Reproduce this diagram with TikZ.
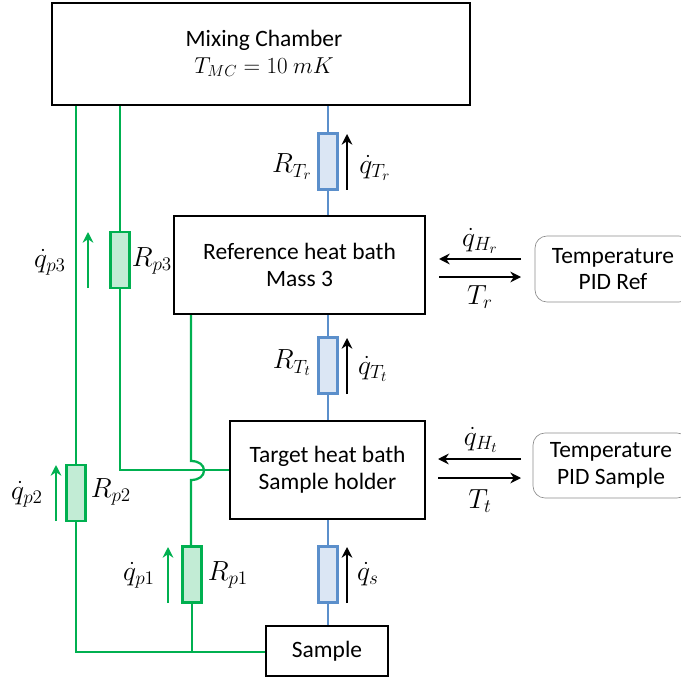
\documentclass[tikz,border=0pt]{standalone}
\usepackage{fontspec}
\setmainfont{Carlito}
\usetikzlibrary{arrows.meta,calc}
\definecolor{gline}{HTML}{00B050}
\definecolor{bline}{HTML}{5B8FCB}
\tikzset{
 x=0.75pt,y=-0.75pt,
 boxn/.style={draw=black,line width=1.5pt,inner sep=0pt,align=center,font=\fontsize{17.6}{20}\selectfont},
 pid/.style={draw=black!45,line width=0.5pt,rounded corners=9pt,inner sep=0pt,align=center,font=\fontsize{17.6}{20}\selectfont},
 rblue/.style={draw=bline,line width=1.8pt,fill=bline!22,minimum width=14.5pt,minimum height=42pt,inner sep=0pt},
 rgreen/.style={draw=gline,line width=1.8pt,fill=gline!24,minimum width=14.5pt,minimum height=42pt,inner sep=0pt},
 wg/.style={draw=gline,line width=1.7pt},
 wb/.style={draw=bline,line width=1.8pt},
 arr/.style={draw=black,line width=1.2pt,-{Stealth[length=8pt,width=8pt]}},
 arrg/.style={draw=gline,line width=1.2pt,-{Stealth[length=8pt,width=8pt]}},
 lab/.style={inner sep=0pt,font=\fontsize{21}{24}\selectfont},
}
\begin{document}
\begin{tikzpicture}
\useasboundingbox (0,0) rectangle (681,677);
\node[boxn,minimum width=313.5pt,minimum height=76.5pt] (mc) at (261,54) {};
\node[inner sep=0pt,align=center,font=\fontsize{17.6}{20.3}\selectfont] (mct) at (264,53.5) {Mixing Chamber\\$T_{MC}=10\ mK$};
\node[boxn,minimum width=188.5pt,minimum height=73.5pt] (ref) at (299.5,265) {Reference heat bath\\Mass 3};
\node[boxn,minimum width=146.5pt,minimum height=73.5pt] (tgt) at (327.5,470) {Target heat bath\\Sample holder};
\node[boxn,minimum width=91.5pt,minimum height=37.5pt] (smp) at (327,651) {Sample};
\node[pid,minimum width=117pt,minimum height=49.5pt] (pr) at (613,269) {Temperature\\PID Ref};
\node[pid,minimum width=117pt,minimum height=48.75pt] (ps) at (611,465.5) {Temperature\\PID Sample};
\node[rblue] (r1) at (328,161.5) {};
\node[rblue] (r2) at (328,365.5) {};
\node[rblue] (r3) at (328,574.5) {};
\node[rgreen] (g3) at (120,260) {};
\node[rgreen] (g2) at (76,493) {};
\node[rgreen] (g1) at (192,574.5) {};
% blue connectors
\draw[wb] (r1.north) -- (r1.north |- mc.south);
\draw[wb] (r1.south) -- (r1.south |- ref.north);
\draw[wb] (r2.north) -- (r2.north |- ref.south);
\draw[wb] (r2.south) -- (r2.south |- tgt.north);
\draw[wb] (r3.north) -- (r3.north |- tgt.south);
\draw[wb] (r3.south) -- (r3.south |- smp.north);
% green connectors
\coordinate (j3) at (120,470);
\coordinate (bu) at (191,461);
\coordinate (bd) at (191,480);
\coordinate (sj) at (76,652);
\coordinate (sk) at (192,652);
\draw[wg] (g3.north) -- (g3.north |- mc.south);
\draw[wg] (g3.south) -- (j3) -- (j3 -| tgt.west);
\draw[wg] (g2.north) -- (g2.north |- mc.south);
\draw[wg] (g2.south) -- (sj) -- (sj -| smp.west);
\draw[wg] (g1.south) -- (sk);
\draw[wg] (bu |- ref.south) -- (bu) .. controls (199,461) and (204,465) .. (204,470.5) .. controls (204,476) and (199,480) .. (bd) -- (g1.north -| bd);
% flow arrows
\coordinate (a1s) at (347,190); \coordinate (a1e) at (347,134);
\coordinate (a2s) at (347,394); \coordinate (a2e) at (347,338);
\coordinate (a3s) at (347,603); \coordinate (a3e) at (347,547);
\draw[arr] (a1s) -- (a1e);
\draw[arr] (a2s) -- (a2e);
\draw[arr] (a3s) -- (a3e);
\coordinate (b1s) at (88,288); \coordinate (b1e) at (88,232);
\coordinate (b2s) at (56,521); \coordinate (b2e) at (56,465);
\coordinate (b3s) at (168,603); \coordinate (b3e) at (168,547);
\draw[arrg] (b1s) -- (b1e);
\draw[arrg] (b2s) -- (b2e);
\draw[arrg] (b3s) -- (b3e);
\coordinate (h1s) at (521,259); \coordinate (h1e) at (439,259);
\coordinate (h2s) at (439,277); \coordinate (h2e) at (521,277);
\coordinate (h3s) at (521,459); \coordinate (h3e) at (438,459);
\coordinate (h4s) at (438,478); \coordinate (h4e) at (521,478);
\draw[arr] (h1s) -- (h1e);
\draw[arr] (h2s) -- (h2e);
\draw[arr] (h3s) -- (h3e);
\draw[arr] (h4s) -- (h4e);
% labels
\node[lab] (l1) at (292,167) {$R_{T_r}$};
\node[lab] (l2) at (375,168) {$\dot q_{T_r}$};
\node[lab] (l3) at (292,363) {$R_{T_t}$};
\node[lab] (l4) at (373,369) {$\dot q_{T_t}$};
\node[lab] (l5) at (368,574) {$\dot q_{s}$};
\node[lab] (l6) at (480,241) {$\dot q_{H_r}$};
\node[lab] (l7) at (480,297) {$T_r$};
\node[lab] (l8) at (481,440) {$\dot q_{H_t}$};
\node[lab] (l9) at (480,501) {$T_t$};
\node[lab] (l10) at (50,262) {$\dot q_{p3}$};
\node[lab] (l11) at (152,261) {$R_{p3}$};
\node[lab] (l12) at (27,494) {$\dot q_{p2}$};
\node[lab] (l13) at (111,492) {$R_{p2}$};
\node[lab] (l14) at (139,575) {$\dot q_{p1}$};
\node[lab] (l15) at (228,575) {$R_{p1}$};
\end{tikzpicture}
\end{document}
